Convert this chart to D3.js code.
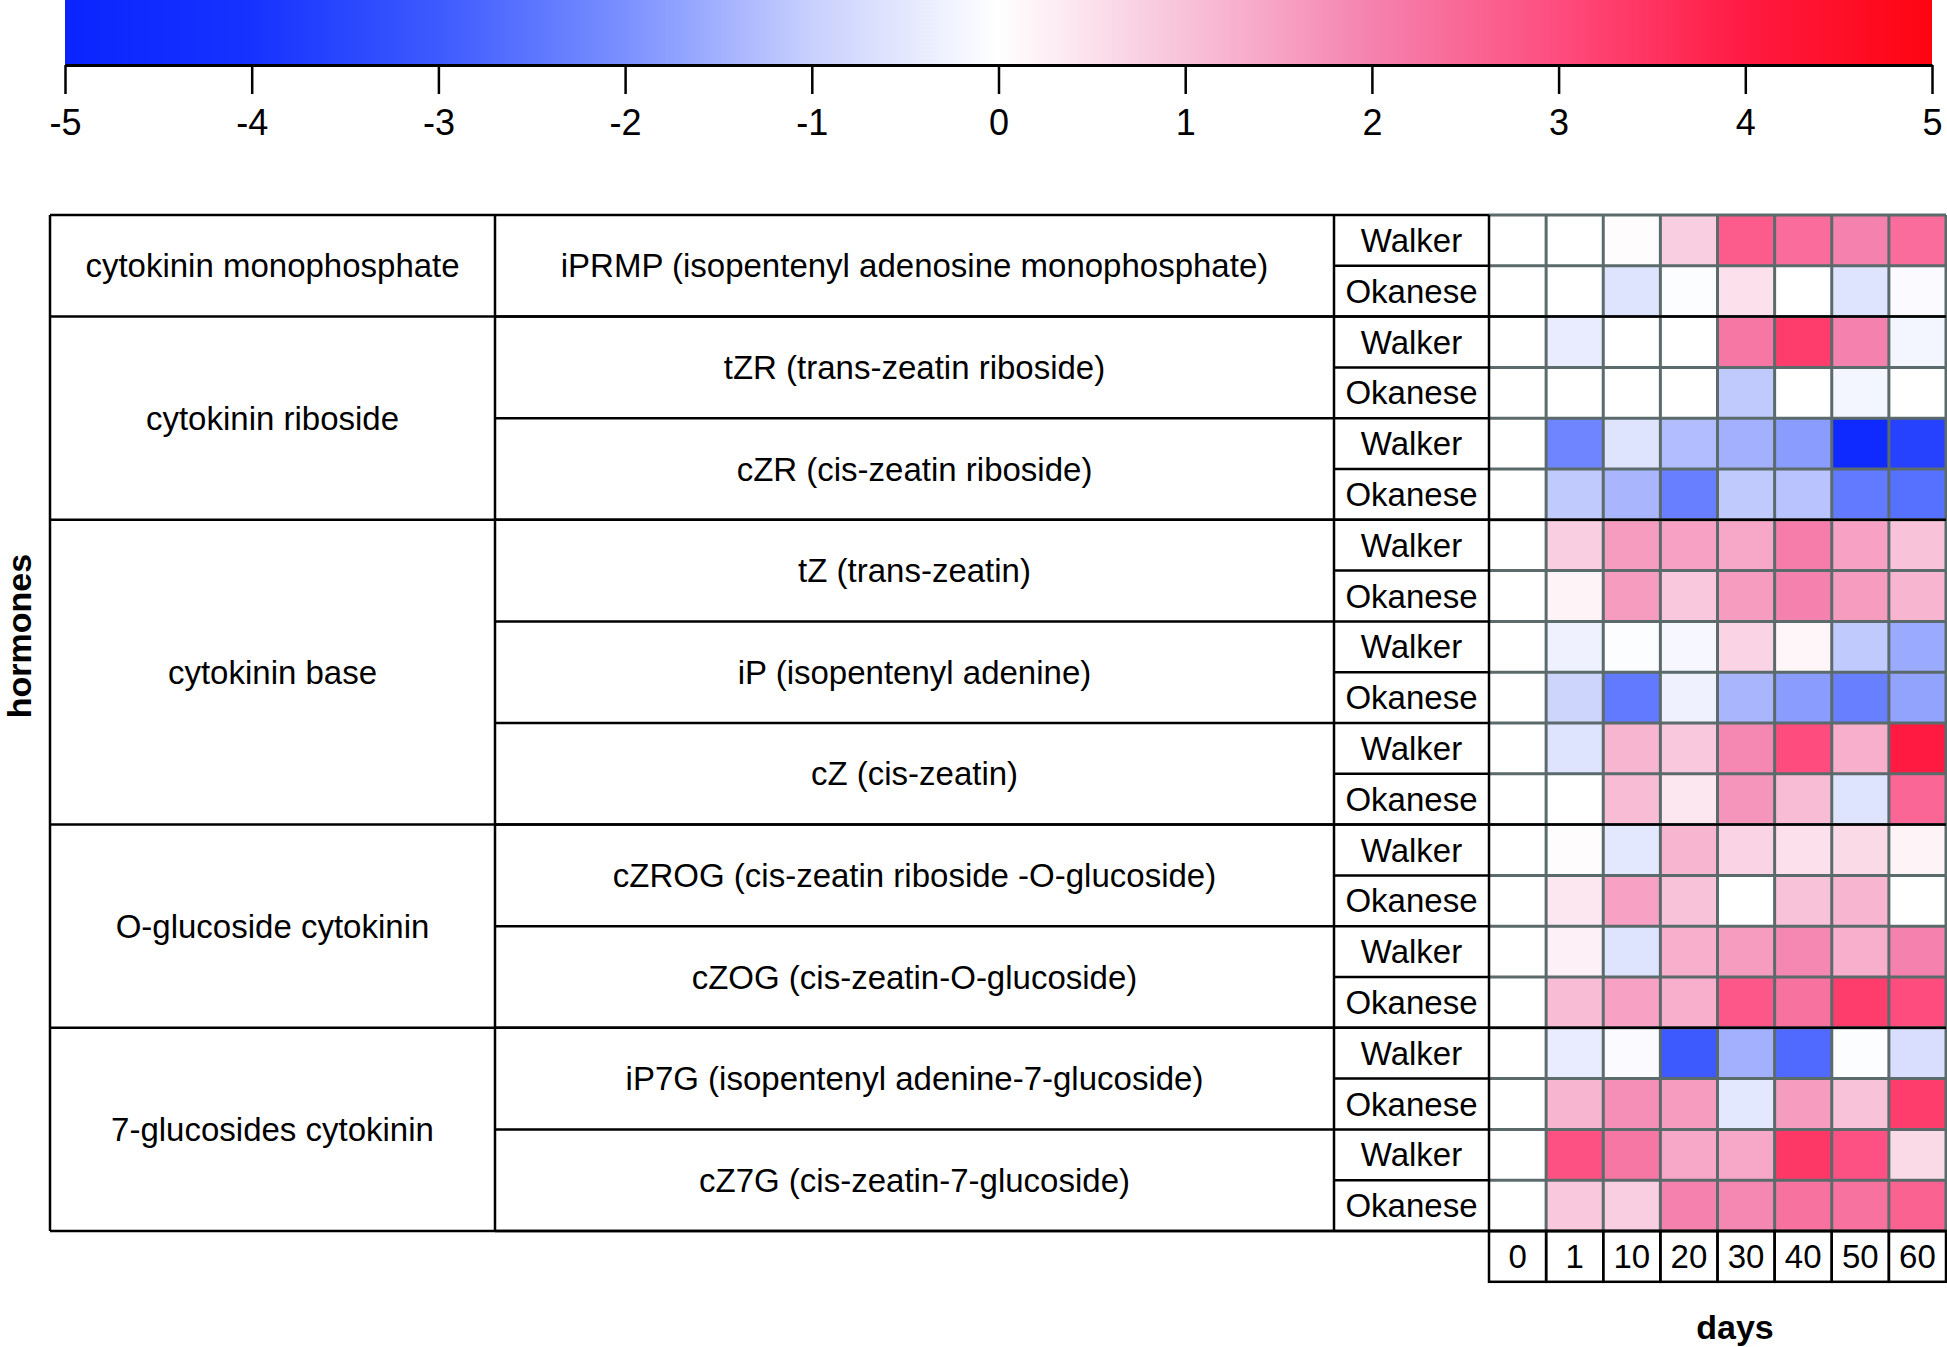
<!DOCTYPE html>
<html>
<head>
<meta charset="utf-8">
<script src="https://cdn.jsdelivr.net/npm/d3@7"></script>
<style>
  body { margin: 0; background: #fff; }
  text { font-family: "Liberation Sans", Arial, sans-serif; fill: #000; }
</style>
</head>
<body>
<div id="chart"></div>
<script>
const W = 1947, H = 1347;

// colour key
const keyTicks = [-5,-4,-3,-2,-1,0,1,2,3,4,5];
const keyColors = ["#0a24ff","#1632ff","#3d5aff","#7b90ff","#c8d0fd","#ffffff","#f8c2d9","#f582ae","#fe4c7e","#ff1a42","#ff0410"];

// table labels
const days = ["0","1","10","20","30","40","50","60"];
const cultivars = ["Walker","Okanese"];
const groups = ["cytokinin monophosphate","cytokinin riboside","cytokinin base","O-glucoside cytokinin","7-glucosides cytokinin"];
const groupSizes = [1,2,3,2,2]; // compounds in each group
const compounds = [
  "iPRMP (isopentenyl adenosine monophosphate)",
  "tZR (trans-zeatin riboside)",
  "cZR (cis-zeatin riboside)",
  "tZ (trans-zeatin)",
  "iP (isopentenyl adenine)",
  "cZ (cis-zeatin)",
  "cZROG (cis-zeatin riboside -O-glucoside)",
  "cZOG (cis-zeatin-O-glucoside)",
  "iP7G (isopentenyl adenine-7-glucoside)",
  "cZ7G (cis-zeatin-7-glucoside)"
];

// log fold change per row (compound x cultivar), columns = days
const values = [
  [0, 0.0, 0.05, 0.8, 2.7, 2.4, 2.0, 2.4],
  [0, 0.0, -0.6, -0.05, 0.5, 0.0, -0.6, -0.1],
  [0, -0.4, 0.0, 0.0, 2.2, 3.3, 2.0, -0.2],
  [0, 0.0, 0.0, 0.0, -1.1, 0.0, -0.2, 0.0],
  [0, -2.2, -0.6, -1.3, -1.5, -1.8, -4.6, -3.6],
  [0, -1.1, -1.4, -2.3, -1.1, -1.2, -2.4, -2.6],
  [0, 0.8, 1.6, 1.5, 1.4, 2.1, 1.5, 1.0],
  [0, 0.2, 1.6, 0.9, 1.6, 2.0, 1.6, 1.2],
  [0, -0.3, -0.05, -0.15, 0.7, 0.15, -1.1, -1.6],
  [0, -0.9, -2.4, -0.3, -1.4, -1.8, -2.3, -1.7],
  [0, -0.6, 1.2, 0.9, 1.9, 3.0, 1.3, 4.0],
  [0, 0.0, 1.1, 0.4, 1.7, 1.1, -0.6, 2.5],
  [0, 0.05, -0.5, 1.2, 0.7, 0.5, 0.6, 0.2],
  [0, 0.4, 1.5, 1.0, 0.0, 1.0, 1.2, 0.0],
  [0, 0.25, -0.6, 1.3, 1.6, 1.9, 1.3, 2.0],
  [0, 1.1, 1.5, 1.3, 2.8, 2.3, 3.3, 3.0],
  [0, -0.4, -0.1, -3.0, -1.5, -2.7, -0.05, -0.7],
  [0, 1.2, 1.8, 1.6, -0.5, 1.6, 1.0, 3.3],
  [0, 2.9, 2.2, 1.4, 1.4, 3.4, 2.9, 0.6],
  [0, 0.9, 0.8, 2.0, 1.9, 2.3, 2.3, 2.6]
];

const svg = d3.select("#chart").append("svg")
  .attr("width", W)
  .attr("height", H);

const color = d3.scaleLinear().domain(keyTicks).range(keyColors).clamp(true);

// ---- colour key ----
const kx = d3.scaleLinear().domain([-5, 5]).range([65, 1932]);
const grad = svg.append("defs").append("linearGradient")
  .attr("id", "keygrad")
  .attr("x1", "0%").attr("x2", "100%").attr("y1", "0%").attr("y2", "0%");
keyTicks.forEach((t, i) => {
  grad.append("stop")
    .attr("offset", (i / (keyTicks.length - 1) * 100) + "%")
    .attr("stop-color", keyColors[i]);
});
svg.append("rect")
  .attr("x", kx(-5)).attr("y", 0)
  .attr("width", kx(5) - kx(-5)).attr("height", 65)
  .attr("fill", "url(#keygrad)");

const keyAxis = svg.append("g")
  .attr("transform", "translate(0,65)")
  .call(d3.axisBottom(kx).tickValues(keyTicks).tickSize(29).tickSizeOuter(0).tickFormat(d => String(d)));
keyAxis.select(".domain").attr("stroke", "#000").attr("stroke-width", 3);
keyAxis.selectAll(".tick line").attr("stroke", "#000").attr("stroke-width", 2.5);
keyAxis.selectAll(".tick text")
  .attr("y", 44)
  .style("font-family", "'Liberation Sans', Arial, sans-serif")
  .style("font-size", "36px")
  .attr("fill", "#000");

// ---- table ----
const tTop = 215, tBottom = 1231;
const col1 = 50, col2 = 495, col3 = 1334, col4 = 1489, right = 1946;
const rowY = d3.scaleBand().domain(d3.range(values.length)).range([tTop, tBottom]);
const dayX = d3.scaleBand().domain(days).range([col4, right]);
const fs = "33px";

// heatmap cells
values.forEach((row, r) => {
  svg.selectAll(null)
    .data(row)
    .enter().append("rect")
    .attr("x", (d, c) => dayX(days[c]))
    .attr("y", rowY(r))
    .attr("width", dayX.bandwidth())
    .attr("height", rowY.bandwidth())
    .attr("fill", d => color(d));
});

// grey grid over the heatmap
const grid = svg.append("g").attr("stroke", "#5b6b6b").attr("stroke-width", 3);
days.forEach(d => {
  grid.append("line")
    .attr("x1", dayX(d) + dayX.bandwidth()).attr("x2", dayX(d) + dayX.bandwidth())
    .attr("y1", tTop).attr("y2", tBottom);
});
d3.range(values.length + 1).forEach(r => {
  const y = r < values.length ? rowY(r) : tBottom;
  grid.append("line")
    .attr("x1", col4).attr("x2", right)
    .attr("y1", y).attr("y2", y);
});

// black lines of the label table
const blk = svg.append("g").attr("stroke", "#000").attr("stroke-width", 2.5).attr("fill", "none");
blk.append("line").attr("x1", col1).attr("x2", col4).attr("y1", tTop).attr("y2", tTop);
[col1, col2, col3, col4].forEach(x => {
  blk.append("line").attr("x1", x).attr("x2", x).attr("y1", tTop).attr("y2", tBottom);
});
// cultivar rows
d3.range(1, values.length + 1).forEach(r => {
  const y = r < values.length ? rowY(r) : tBottom;
  blk.append("line").attr("x1", col3).attr("x2", col4).attr("y1", y).attr("y2", y);
});
// compound rows
d3.range(1, compounds.length + 1).forEach(c => {
  const y = c < compounds.length ? rowY(c * 2) : tBottom;
  blk.append("line").attr("x1", col2).attr("x2", col3).attr("y1", y).attr("y2", y);
});
// group rows, drawn through the heatmap
let start = 0;
const groupSpans = groupSizes.map(n => {
  const s = start;
  start += n;
  return [s * 2, start * 2];
});
groupSpans.forEach(([s, e]) => {
  const y = e < values.length ? rowY(e) : tBottom;
  blk.append("line").attr("x1", col1).attr("x2", right).attr("y1", y).attr("y2", y);
});

// labels
groups.forEach((g, i) => {
  const [s, e] = groupSpans[i];
  const y0 = rowY(s), y1 = e < values.length ? rowY(e) : tBottom;
  svg.append("text")
    .attr("x", (col1 + col2) / 2).attr("y", (y0 + y1) / 2)
    .attr("dy", "0.35em").attr("text-anchor", "middle")
    .style("font-size", fs).text(g);
});
compounds.forEach((c, i) => {
  svg.append("text")
    .attr("x", (col2 + col3) / 2).attr("y", rowY(i * 2) + rowY.bandwidth())
    .attr("dy", "0.35em").attr("text-anchor", "middle")
    .style("font-size", fs).text(c);
});
values.forEach((row, r) => {
  svg.append("text")
    .attr("x", (col3 + col4) / 2).attr("y", rowY(r) + rowY.bandwidth() / 2)
    .attr("dy", "0.35em").attr("text-anchor", "middle")
    .style("font-size", fs).text(cultivars[r % 2]);
});

// days row
const dayTop = tBottom, dayBottom = tBottom + rowY.bandwidth();
const dg = svg.append("g");
days.forEach(d => {
  dg.append("rect")
    .attr("x", dayX(d)).attr("y", dayTop)
    .attr("width", dayX.bandwidth()).attr("height", dayBottom - dayTop)
    .attr("fill", "none").attr("stroke", "#000").attr("stroke-width", 2.5);
  dg.append("text")
    .attr("x", dayX(d) + dayX.bandwidth() / 2).attr("y", (dayTop + dayBottom) / 2)
    .attr("dy", "0.35em").attr("text-anchor", "middle")
    .style("font-size", fs).text(d);
});

// axis titles
svg.append("text")
  .attr("x", 1735).attr("y", 1327)
  .attr("dy", "0.35em").attr("text-anchor", "middle")
  .style("font-size", "34px").style("font-weight", "bold")
  .text("days");
svg.append("text")
  .attr("transform", "translate(31,636) rotate(-90)")
  .attr("text-anchor", "middle")
  .style("font-size", "34px").style("font-weight", "bold")
  .text("hormones");
</script>
</body>
</html>
